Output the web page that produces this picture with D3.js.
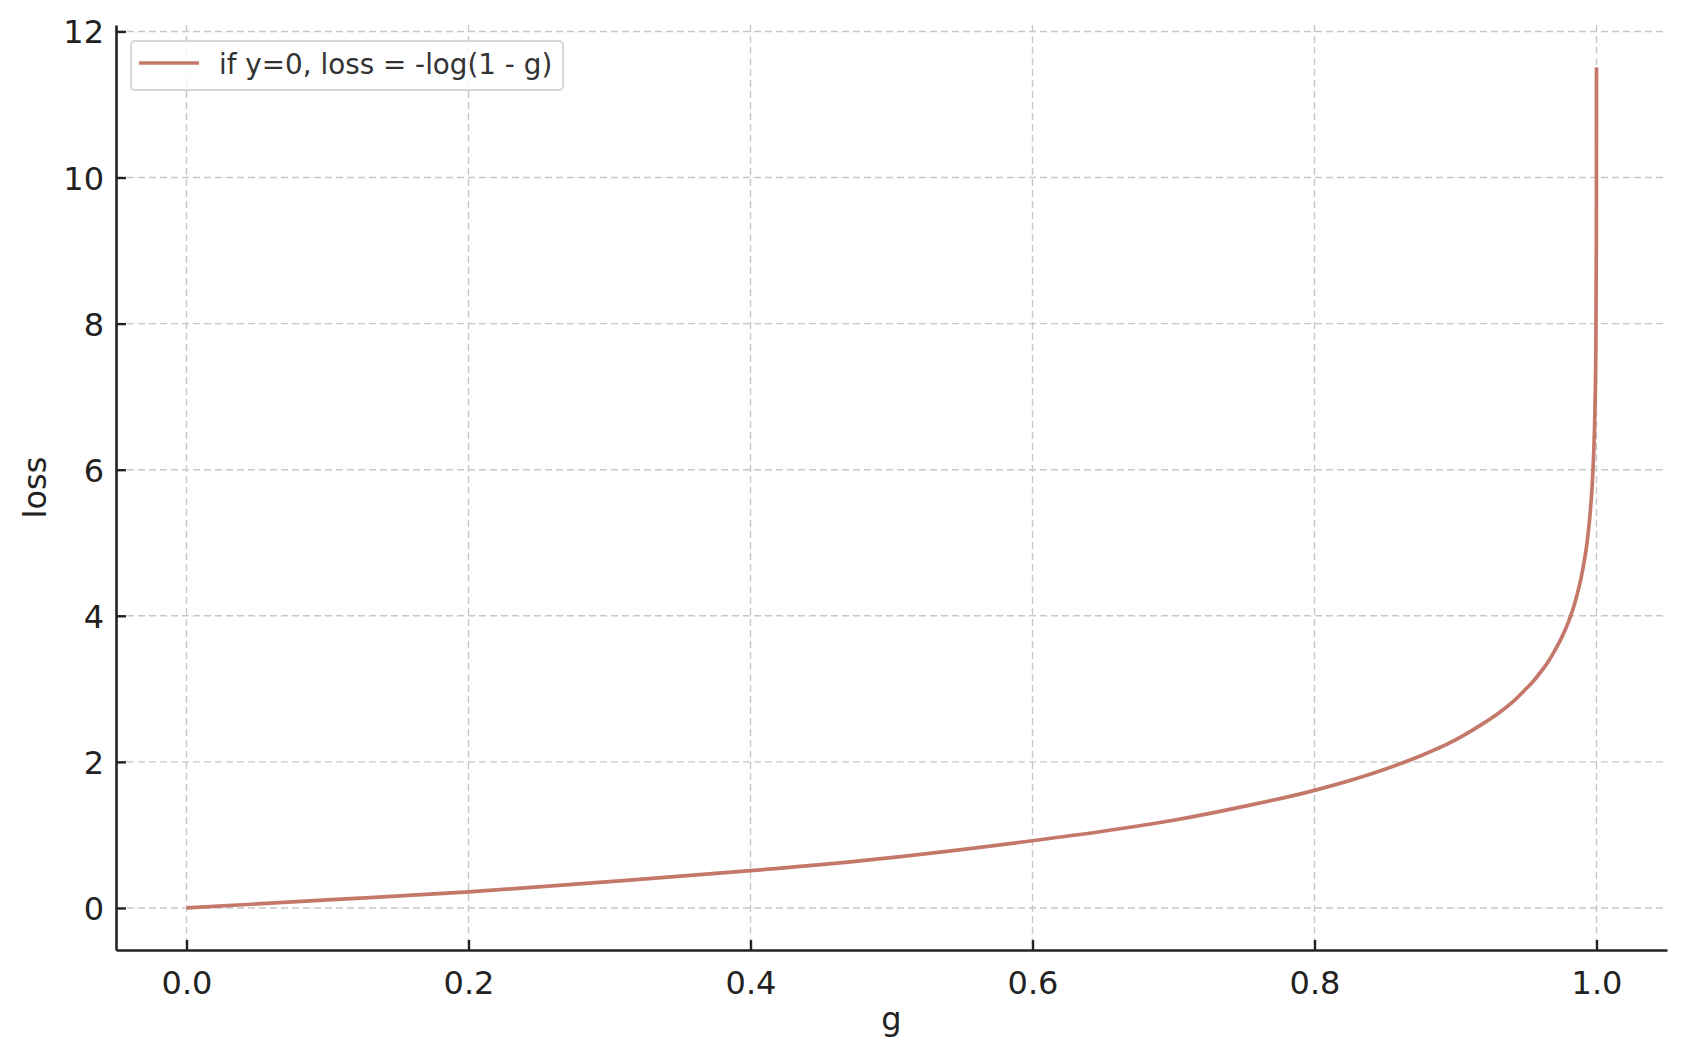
<!DOCTYPE html>
<html>
<head>
<meta charset="utf-8">
<script src="https://cdn.jsdelivr.net/npm/d3@7"></script>
<style>
  body { margin: 0; background: #fff; }
  text { font-family: "DejaVu Sans", sans-serif; }
</style>
</head>
<body>
<svg id="chart" width="1686" height="1057"></svg>
<script>
// values
var gValues = [0, 0.1, 0.2, 0.3, 0.4, 0.5, 0.6, 0.65, 0.7, 0.75, 0.8, 0.85, 0.875, 0.9, 0.91, 0.92,
               0.93, 0.94, 0.95, 0.955, 0.96, 0.965, 0.97, 0.975, 0.98, 0.985, 0.99, 0.993,
               0.995, 0.997, 0.998, 0.999, 0.9995, 0.9999, 0.99999];
var lossValues = [0, 0.11, 0.22, 0.36, 0.51, 0.69, 0.92, 1.05, 1.20, 1.39, 1.61, 1.90, 2.08, 2.30, 2.41, 2.53,
                  2.66, 2.81, 3.00, 3.10, 3.22, 3.35, 3.51, 3.69, 3.91, 4.20, 4.61, 4.96,
                  5.30, 5.81, 6.21, 6.91, 7.60, 9.21, 11.51];
var xTicks = [0, 0.2, 0.4, 0.6, 0.8, 1.0];
var yTicks = [0, 2, 4, 6, 8, 10, 12];
var seriesLabel = 'if y=0, loss = -log(1 - g)';

var points = gValues.map((g, i) => ({g: g, loss: lossValues[i]}));

// plot box (window.top is reserved, so use other names)
var plotLeft = 116, plotRight = 1667, plotTop = 25, plotBottom = 950;
var svg = d3.select('#chart');

var x = d3.scaleLinear().domain([-0.05, 1.05]).range([plotLeft, plotRight]);
var y = d3.scaleLinear().domain([-0.5756, 12.088]).range([plotBottom, plotTop]);

// grid lines
var grid = svg.append('g')
    .attr('stroke', '#c8c8c8')
    .attr('stroke-width', 1.4)
    .attr('stroke-dasharray', '7,4');
grid.selectAll('.vg').data(xTicks).enter().append('line')
    .attr('x1', d => x(d)).attr('x2', d => x(d))
    .attr('y1', plotTop).attr('y2', plotBottom);
grid.selectAll('.hg').data(yTicks).enter().append('line')
    .attr('x1', plotLeft).attr('x2', plotRight)
    .attr('y1', d => y(d)).attr('y2', d => y(d));

// the curve
var line = d3.line()
    .x(d => x(d.g))
    .y(d => y(d.loss))
    .curve(d3.curveMonotoneX);
svg.append('path')
    .datum(points)
    .attr('fill', 'none')
    .attr('stroke', '#c4786a')
    .attr('stroke-width', 3.7)
    .attr('d', line);

// axes: ticks point inward, only left and bottom spines
var xAxis = svg.append('g')
    .attr('transform', 'translate(0,' + plotBottom + ')')
    .call(d3.axisBottom(x).tickValues(xTicks).tickFormat(d3.format('.1f'))
      .tickSizeInner(-10).tickSizeOuter(0).tickPadding(14));
var yAxis = svg.append('g')
    .attr('transform', 'translate(' + plotLeft + ',0)')
    .call(d3.axisLeft(y).tickValues(yTicks).tickFormat(d3.format('d'))
      .tickSizeInner(-10).tickSizeOuter(0).tickPadding(12));

[xAxis, yAxis].forEach(function(ax) {
  ax.select('.domain').attr('stroke', '#222').attr('stroke-width', 2.6);
  ax.selectAll('.tick line').attr('stroke', '#222').attr('stroke-width', 2.4);
  ax.selectAll('.tick text')
    .attr('fill', '#222')
    .style('font-size', '32px')
    .style('font-family', '"DejaVu Sans", sans-serif');
});
xAxis.selectAll('.tick text').attr('dy', '0.95em');
yAxis.selectAll('.tick text').attr('dy', '0.36em');

// axis titles
svg.append('text')
    .attr('x', (plotLeft + plotRight) / 2)
    .attr('y', 1030)
    .attr('text-anchor', 'middle')
    .attr('fill', '#222')
    .style('font-size', '32px')
    .text('g');
svg.append('text')
    .attr('transform', 'translate(46,' + ((plotTop + plotBottom) / 2) + ') rotate(-90)')
    .attr('text-anchor', 'middle')
    .attr('fill', '#222')
    .style('font-size', '32px')
    .text('loss');

// legend
var legend = svg.append('g');
legend.append('rect')
    .attr('x', 131).attr('y', 41)
    .attr('width', 432).attr('height', 49)
    .attr('rx', 4)
    .attr('fill', 'rgba(255,255,255,0.8)')
    .attr('stroke', '#d6d6d6')
    .attr('stroke-width', 2);
legend.append('line')
    .attr('x1', 139).attr('x2', 199)
    .attr('y1', 63).attr('y2', 63)
    .attr('stroke', '#c4786a')
    .attr('stroke-width', 3.7);
legend.append('text')
    .attr('x', 219).attr('y', 74)
    .attr('fill', '#333')
    .style('font-size', '27.8px')
    .text(seriesLabel);
</script>
</body>
</html>
